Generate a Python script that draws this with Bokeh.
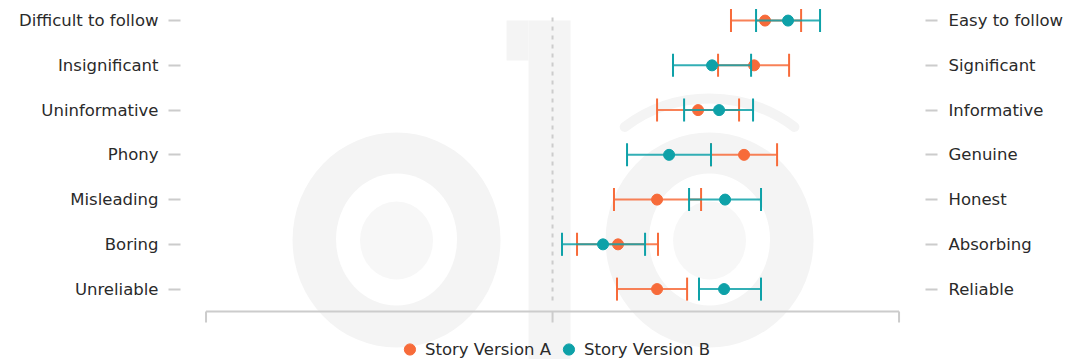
import numpy as np
from bokeh.plotting import figure
from bokeh.models import (LinearAxis, FixedTicker, Range1d, ColumnDataSource,
                          Legend, LegendItem)
from bokeh.embed import file_html
from bokeh.resources import INLINE

# ---- data -------------------------------------------------------------
left_labels = ["Difficult to follow", "Insignificant", "Uninformative", "Phony",
               "Misleading", "Boring", "Unreliable"]
right_labels = ["Easy to follow", "Significant", "Informative", "Genuine",
                "Honest", "Absorbing", "Reliable"]
series_names = ["Story Version A", "Story Version B"]

a_mean = [1.84, 1.745, 1.26, 1.658, 0.905, 0.567, 0.905]
a_low = [1.545, 1.433, 0.905, 1.372, 0.532, 0.212, 0.558]
a_high = [2.152, 2.048, 1.615, 1.944, 1.286, 0.913, 1.165]

b_mean = [2.039, 1.381, 1.442, 1.009, 1.494, 0.437, 1.485]
b_low = [1.762, 1.043, 1.139, 0.645, 1.182, 0.082, 1.268]
b_high = [2.316, 1.719, 1.736, 1.372, 1.805, 0.801, 1.805]

scale_ticks = [-3, 0, 3]
rows = list(range(7, 0, -1))

# ---- style ------------------------------------------------------------
FONT = "DejaVu Sans"
FSIZE = "16.5px"
TEXT = "#2a2a2a"
GRAY = "#cccccc"
WM = "#f4f4f4"
WM2 = "#f7f7f7"
ORANGE = "#f76b3a"
TEAL = "#0ea1a8"

p = figure(width=1068, height=359,
           x_range=Range1d(-3.221, 3.229), y_range=Range1d(-0.573, 7.449),
           x_axis_location=None, y_axis_location=None,
           toolbar_location=None, output_backend="svg",
           min_border_left=180, min_border_right=143,
           min_border_top=0, min_border_bottom=0,
           outline_line_color=None)
p.grid.visible = False


# watermark (decoration) placed via pixel->data helpers
def dx(px):
    return (px - 552) / 115.5


def dy(py):
    return 7 - (py - 20.1) / 44.75


for cx in (396, 709):
    p.ellipse(x=[dx(cx)], y=[dy(239.5)], width=208, height=215,
              width_units="screen", height_units="screen",
              fill_color=WM, line_color=None)
    p.ellipse(x=[dx(cx)], y=[dy(239)], width=121, height=132,
              width_units="screen", height_units="screen",
              fill_color="white", line_color=None)
    p.ellipse(x=[dx(cx)], y=[dy(240)], width=73, height=78,
              width_units="screen", height_units="screen",
              fill_color=WM2, line_color=None)
p.arc(x=[dx(709)], y=[dy(239)], radius=141, radius_units="screen",
      start_angle=np.radians(53), end_angle=np.radians(127),
      line_color=WM, line_width=10, line_cap="round")
p.quad(left=[dx(528)], right=[dx(570)], top=[dy(20)], bottom=[dy(365)],
       fill_color=WM, line_color=None)
p.quad(left=[dx(506)], right=[dx(528)], top=[dy(20)], bottom=[dy(60)],
       fill_color=WM, line_color=None)

# center dashed line and bottom scale
p.segment(x0=[0], y0=[0.745], x1=[0], y1=[7.159], line_color=GRAY,
          line_width=2, line_dash="4 5")
p.segment(x0=[scale_ticks[0]], y0=[0.5], x1=[scale_ticks[-1]], y1=[0.5],
          line_color=GRAY, line_width=2)
p.segment(x0=scale_ticks, y0=[0.5] * len(scale_ticks), x1=scale_ticks,
          y1=[0.254] * len(scale_ticks), line_color=GRAY, line_width=2)

# axes
for loc, labels, standoff in (("left", left_labels, 10),
                              ("right", right_labels, 11)):
    ax = LinearAxis(ticker=FixedTicker(ticks=rows),
                    major_label_overrides={r: lab for r, lab in zip(rows, labels)},
                    axis_line_color=None,
                    major_tick_line_color=GRAY, major_tick_line_width=2,
                    major_tick_out=12, major_tick_in=0,
                    minor_tick_line_color=None,
                    major_label_standoff=standoff,
                    major_label_text_font=FONT,
                    major_label_text_font_size=FSIZE,
                    major_label_text_color=TEXT)
    p.add_layout(ax, loc)

# series
items = []
for name, color, mean, low, high in ((series_names[0], ORANGE, a_mean, a_low, a_high),
                                     (series_names[1], TEAL, b_mean, b_low, b_high)):
    src = ColumnDataSource(dict(y=rows, mean=mean, low=low, high=high))
    p.segment(x0="low", y0="y", x1="high", y1="y", source=src,
              line_color=color, line_width=2, line_alpha=0.85)
    for end in ("low", "high"):
        p.scatter(x=end, y="y", source=src, marker="dash", angle=np.pi / 2,
                  size=23, line_color=color, line_width=2)
    r = p.scatter(x="mean", y="y", source=src, size=11,
                  fill_color=color, line_color=color)
    items.append(LegendItem(label=name, renderers=[r]))

legend = Legend(items=items, location="bottom_center", orientation="horizontal",
                border_line_color=None, background_fill_alpha=0,
                margin=-4, padding=0, spacing=3, label_standoff=2,
                glyph_width=28, glyph_height=28,
                label_text_font=FONT, label_text_font_size=FSIZE,
                label_text_color=TEXT)
p.add_layout(legend)

open("out.html", "w").write(file_html(p, INLINE))
